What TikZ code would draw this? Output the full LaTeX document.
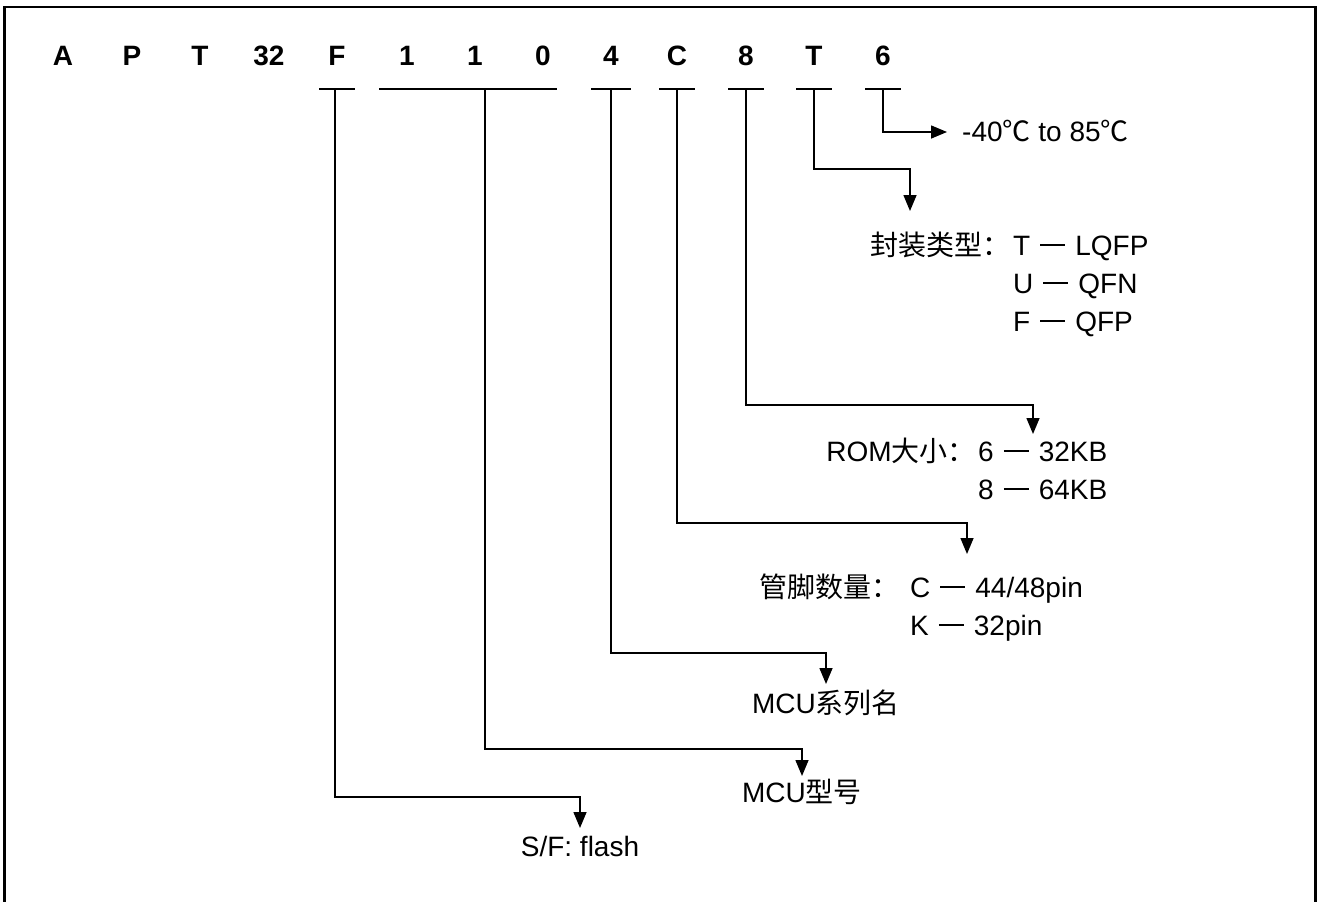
\documentclass[tikz,border=0pt]{standalone}
\usepackage{fontspec}
\setmainfont{Liberation Sans}
\newfontfamily\cjk{Noto Sans CJK SC}
\usetikzlibrary{arrows.meta}
\newcommand\pndash{\hspace{10pt}\rule[9.5pt]{25pt}{1.2pt}\hspace{10pt}}
\begin{document}
\begin{tikzpicture}[x=1pt,y=-1pt,
  code/.style={font=\fontsize{28}{34}\selectfont\bfseries, inner sep=0pt, anchor=base},
  lbl/.style={font=\fontsize{28}{34}\selectfont, inner sep=0pt},
  bar/.style={line width=1.5pt},
  conn/.style={line width=1.5pt, -{Triangle[length=16pt,width=13pt]}},
  frame/.style={line width=2.5pt}]
\useasboundingbox (0,0) rectangle (1317,902);
\draw[frame] (4.5,940) -- (4.5,7) -- (1315.5,7) -- (1315.5,940);

% part number characters
\node[code] (cA)  at (63,65)  {A};
\node[code] (cP)  at (132,65) {P};
\node[code] (cT1) at (200,65) {T};
\node[code] (c32) at (269,65) {32};
\node[code] (cF)  at (337,65) {F};
\node[code] (c1a) at (407,65) {1};
\node[code] (c1b) at (475,65) {1};
\node[code] (c0)  at (543,65) {0};
\node[code] (c4)  at (611,65) {4};
\node[code] (cC)  at (677,65) {C};
\node[code] (c8)  at (746,65) {8};
\node[code] (cT2) at (814,65) {T};
\node[code] (c6)  at (883,65) {6};

% underbars
\coordinate (bF) at (335,89);
\coordinate (b110) at (485,89);
\coordinate (b4) at (611,89);
\coordinate (bC) at (677,89);
\coordinate (b8) at (746,89);
\coordinate (bT) at (814,89);
\coordinate (b6) at (883,89);
\draw[bar] (319,89) -- (355,89);
\draw[bar] (379,89) -- (557,89);
\draw[bar] (591,89) -- (631,89);
\draw[bar] (659,89) -- (695,89);
\draw[bar] (728,89) -- (764,89);
\draw[bar] (796,89) -- (832,89);
\draw[bar] (865,89) -- (901,89);

% labels
\node[lbl, anchor=base west] (l6) at (962,141) {-40{\cjk ℃} to 85{\cjk ℃}};

\node[lbl, anchor=base west] (lTa) at (1013,255) {T\pndash LQFP};
\node[lbl, anchor=base east] (lTh) at (1011,255) {\cjk 封装类型：};
\node[lbl, anchor=base west] (lTb) at (1013,293) {U\pndash QFN};
\node[lbl, anchor=base west] (lTc) at (1013,331) {F\pndash QFP};

\node[lbl, anchor=base west] (l8a) at (978,461) {6\pndash 32KB};
\node[lbl, anchor=base east] (l8h) at (976,461) {ROM{\cjk 大小：}};
\node[lbl, anchor=base west] (l8b) at (978,499) {8\pndash 64KB};

\node[lbl, anchor=base west] (lCa) at (910,597) {C\pndash 44/48pin};
\node[lbl, anchor=base east] (lCh) at (900,597) {\cjk 管脚数量：};
\node[lbl, anchor=base west] (lCb) at (910,635) {K\pndash 32pin};

\node[lbl, anchor=base] (l4) at (826,713) {MCU{\cjk 系列名}};
\node[lbl, anchor=base] (l110) at (802,802) {MCU{\cjk 型号}};
\node[lbl, anchor=base] (lF) at (580,856) {S/F: flash};

% connector corners and tips
\coordinate (t6) at (947,132);
\coordinate (hT) at (910,169);  \coordinate (tT) at (910,211);
\coordinate (h8) at (1033,405); \coordinate (t8) at (1033,434);
\coordinate (hC) at (967,523);  \coordinate (tC) at (967,554);
\coordinate (h4) at (826,653);  \coordinate (t4) at (826,684);
\coordinate (h110) at (802,749); \coordinate (t110) at (802,776);
\coordinate (hF) at (580,797);  \coordinate (tF) at (580,828);

\draw[conn] (b6) |- (t6);
\draw[conn] (bT) |- (hT) -- (tT);
\draw[conn] (b8) |- (h8) -- (t8);
\draw[conn] (bC) |- (hC) -- (tC);
\draw[conn] (b4) |- (h4) -- (t4);
\draw[conn] (b110) |- (h110) -- (t110);
\draw[conn] (bF) |- (hF) -- (tF);
\end{tikzpicture}
\end{document}
